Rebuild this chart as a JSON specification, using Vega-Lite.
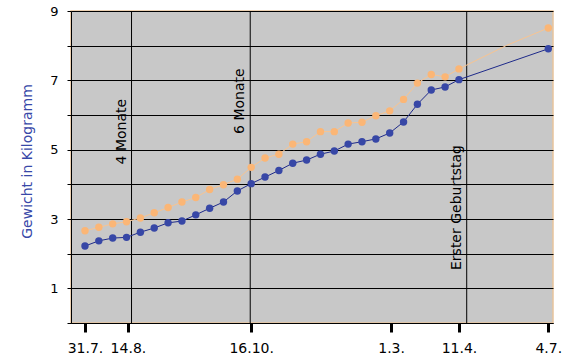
{
  "$schema": "https://vega.github.io/schema/vega-lite/v6.json",
  "width": 482,
  "height": 312,
  "autosize": {"type": "none"},
  "padding": {"left": 71, "top": 11, "right": 13, "bottom": 38},
  "background": "white",
  "config": {
    "view": {"fill": "#c8c8c8", "stroke": "#e8c49c", "strokeWidth": 1.5},
    "font": "DejaVu Sans"
  },
  "datasets": {
    "weights": [
      {"i": 0, "s": "Kind", "kg": 2.22}, {"i": 1, "s": "Kind", "kg": 2.37}, {"i": 2, "s": "Kind", "kg": 2.45},
      {"i": 3, "s": "Kind", "kg": 2.47}, {"i": 4, "s": "Kind", "kg": 2.62}, {"i": 5, "s": "Kind", "kg": 2.74},
      {"i": 6, "s": "Kind", "kg": 2.89}, {"i": 7, "s": "Kind", "kg": 2.94}, {"i": 8, "s": "Kind", "kg": 3.12},
      {"i": 9, "s": "Kind", "kg": 3.31}, {"i": 10, "s": "Kind", "kg": 3.49}, {"i": 11, "s": "Kind", "kg": 3.81},
      {"i": 12, "s": "Kind", "kg": 4.02}, {"i": 13, "s": "Kind", "kg": 4.21}, {"i": 14, "s": "Kind", "kg": 4.40},
      {"i": 15, "s": "Kind", "kg": 4.61}, {"i": 16, "s": "Kind", "kg": 4.70}, {"i": 17, "s": "Kind", "kg": 4.87},
      {"i": 18, "s": "Kind", "kg": 4.96}, {"i": 19, "s": "Kind", "kg": 5.16}, {"i": 20, "s": "Kind", "kg": 5.23},
      {"i": 21, "s": "Kind", "kg": 5.31}, {"i": 22, "s": "Kind", "kg": 5.48}, {"i": 23, "s": "Kind", "kg": 5.80},
      {"i": 24, "s": "Kind", "kg": 6.31}, {"i": 25, "s": "Kind", "kg": 6.72}, {"i": 26, "s": "Kind", "kg": 6.81},
      {"i": 27, "s": "Kind", "kg": 7.02}, {"i": 33.45, "s": "Kind", "kg": 7.91},
      {"i": 0, "s": "Vergleich", "kg": 2.66}, {"i": 1, "s": "Vergleich", "kg": 2.76}, {"i": 2, "s": "Vergleich", "kg": 2.86},
      {"i": 3, "s": "Vergleich", "kg": 2.92}, {"i": 4, "s": "Vergleich", "kg": 3.03}, {"i": 5, "s": "Vergleich", "kg": 3.18},
      {"i": 6, "s": "Vergleich", "kg": 3.33}, {"i": 7, "s": "Vergleich", "kg": 3.49}, {"i": 8, "s": "Vergleich", "kg": 3.62},
      {"i": 9, "s": "Vergleich", "kg": 3.85}, {"i": 10, "s": "Vergleich", "kg": 3.99}, {"i": 11, "s": "Vergleich", "kg": 4.15},
      {"i": 12, "s": "Vergleich", "kg": 4.49}, {"i": 13, "s": "Vergleich", "kg": 4.76}, {"i": 14, "s": "Vergleich", "kg": 4.87},
      {"i": 15, "s": "Vergleich", "kg": 5.16}, {"i": 16, "s": "Vergleich", "kg": 5.23}, {"i": 17, "s": "Vergleich", "kg": 5.52},
      {"i": 18, "s": "Vergleich", "kg": 5.52}, {"i": 19, "s": "Vergleich", "kg": 5.77}, {"i": 20, "s": "Vergleich", "kg": 5.79},
      {"i": 21, "s": "Vergleich", "kg": 5.98}, {"i": 22, "s": "Vergleich", "kg": 6.12}, {"i": 23, "s": "Vergleich", "kg": 6.45},
      {"i": 24, "s": "Vergleich", "kg": 6.92}, {"i": 25, "s": "Vergleich", "kg": 7.17}, {"i": 26, "s": "Vergleich", "kg": 7.10},
      {"i": 27, "s": "Vergleich", "kg": 7.33}, {"i": 30.45, "s": "Vergleich", "kg": 8.01}, {"i": 33.45, "s": "Vergleich", "kg": 8.51}
    ],
    "events": [
      {"i": 3.36, "label": "4 Monate", "kg": 5.52},
      {"i": 11.93, "label": "6 Monate", "kg": 6.40},
      {"i": 27.56, "label": "Erster Geburtstag", "kg": 3.33}
    ]
  },
  "encoding": {
    "x": {
      "field": "i", "type": "quantitative",
      "scale": {"domain": [-1.01, 33.79], "nice": false, "zero": false},
      "axis": {
        "values": [0, 3.1, 12, 22.1, 27, 33.45],
        "labelExpr": "datum.value == 0 ? '31.7.' : datum.value == 3.1 ? '14.8.' : datum.value == 12 ? '16.10.' : datum.value == 22.1 ? '1.3.' : datum.value == 27 ? '11.4.' : '4.7.'",
        "title": null,
        "grid": false,
        "domainColor": "black",
        "domainWidth": 1,
        "tickColor": "black",
        "tickWidth": 3,
        "tickSize": 9,
        "labelPadding": 9,
        "labelFontSize": 14,
        "labelColor": "black",
        "labelFont": "DejaVu Sans"
      }
    },
    "y": {
      "field": "kg", "type": "quantitative",
      "scale": {"domain": [0, 9], "nice": false},
      "axis": {
        "values": [0, 1, 2, 3, 4, 5, 6, 7, 8, 9],
        "labelExpr": "datum.value % 2 == 1 ? datum.label : ''",
        "title": "Gewicht in Kilogramm",
        "titleColor": "#3848a8",
        "titleFontSize": 14,
        "titleFontWeight": "normal",
        "titleFont": "DejaVu Sans",
        "titleX": -44,
        "titleY": 150,
        "titleAngle": 270,
        "titleAlign": "center",
        "titleBaseline": "middle",
        "grid": true,
        "gridColor": "black",
        "gridOpacity": 1,
        "gridWidth": 1,
        "domainColor": "black",
        "tickColor": "black",
        "tickSize": 4,
        "labelPadding": 9,
        "labelFontSize": 13,
        "labelColor": "black"
      }
    }
  },
  "layer": [
    {
      "data": {"name": "events"},
      "mark": {"type": "rule", "color": "black", "strokeWidth": 1},
      "encoding": {"x": {"field": "i", "type": "quantitative"}, "y": null}
    },
    {
      "data": {"name": "events"},
      "mark": {"type": "text", "angle": 270, "align": "center", "baseline": "bottom", "dy": -3, "fontSize": 14, "color": "black"},
      "encoding": {"text": {"field": "label"}}
    },
    {
      "data": {"name": "weights"},
      "mark": {"type": "line", "strokeWidth": 1},
      "encoding": {
        "stroke": {"field": "s", "type": "nominal", "scale": {"domain": ["Kind", "Vergleich"], "range": ["#1e2a8a", "#f8c491"]}, "legend": null}
      }
    },
    {
      "data": {"name": "weights"},
      "transform": [{"filter": "datum.i != 30.45"}],
      "mark": {"type": "point", "filled": true, "size": 55, "opacity": 1},
      "encoding": {
        "fill": {"field": "s", "type": "nominal", "scale": {"domain": ["Kind", "Vergleich"], "range": ["#3747a6", "#fbb676"]}, "legend": null}
      }
    }
  ]
}
